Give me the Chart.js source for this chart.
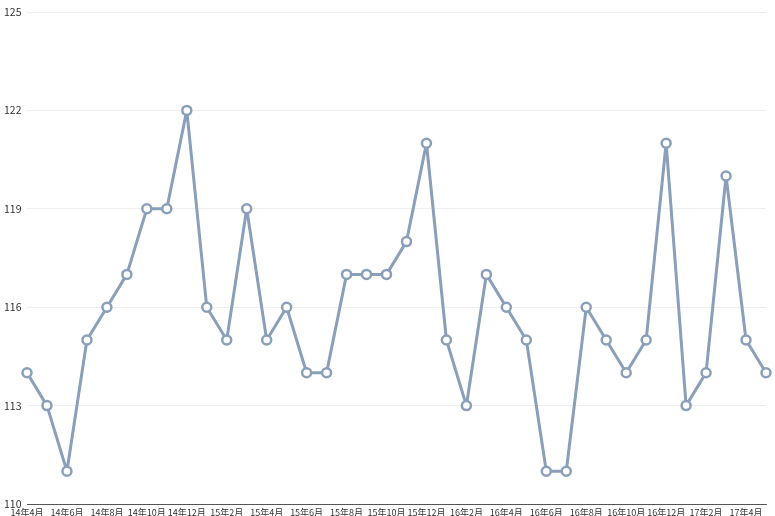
<!DOCTYPE html>
<html>
<head>
<meta charset="utf-8">
<script src="https://cdn.jsdelivr.net/npm/chart.js@4.4.1/dist/chart.umd.min.js"></script>
<style>
  html, body { margin: 0; padding: 0; background: #fff; }
  #wrap { width: 775px; height: 516px; }
</style>
</head>
<body>
<div id="wrap"><canvas id="chart"></canvas></div>
<script>
const months = [
  '14年4月','14年5月','14年6月','14年7月','14年8月','14年9月','14年10月','14年11月','14年12月',
  '15年1月','15年2月','15年3月','15年4月','15年5月','15年6月','15年7月','15年8月','15年9月','15年10月','15年11月','15年12月',
  '16年1月','16年2月','16年3月','16年4月','16年5月','16年6月','16年7月','16年8月','16年9月','16年10月','16年11月','16年12月',
  '17年1月','17年2月','17年3月','17年4月','17年5月'
];
const values = [
  114, 113, 111, 115, 116, 117, 119, 119, 122,
  116, 115, 119, 115, 116, 114, 114, 117, 117, 117, 118, 121,
  115, 113, 117, 116, 115, 111, 111, 116, 115, 114, 115, 121,
  113, 114, 120, 115, 114
];
const yMin = 110, yMax = 125, yStep = 3;

const lineColor = 'rgb(138,159,186)';

new Chart(document.getElementById('chart'), {
  type: 'line',
  data: {
    labels: months,
    datasets: [{
      data: values,
      borderColor: lineColor,
      borderWidth: 3,
      borderJoinStyle: 'round',
      tension: 0,
      pointRadius: 4.5,
      pointBorderWidth: 2.5,
      pointBackgroundColor: '#fff',
      pointBorderColor: lineColor
    }]
  },
  options: {
    responsive: true,
    maintainAspectRatio: false,
    animation: false,
    layout: { padding: { top: 12, right: 9, bottom: 0, left: 4 } },
    plugins: { legend: { display: false }, tooltip: { enabled: false } },
    scales: {
      x: {
        offset: false,
        grid: { display: false, drawTicks: false },
        border: { display: true, color: '#555', width: 1 },
        afterFit: function(s) { s.height = 12; },
        ticks: {
          autoSkip: false,
          maxRotation: 0,
          padding: 3,
          color: '#333',
          font: { family: '"Noto Sans CJK JP"', size: 9 },
          callback: function(v, i) { return i % 2 === 0 ? months[i] : ''; }
        }
      },
      y: {
        min: yMin,
        max: yMax,
        grid: { color: '#eeeeee', drawTicks: false },
        border: { display: false },
        afterFit: function(s) { s.width = 23; },
        ticks: {
          stepSize: yStep,
          padding: 4,
          crossAlign: 'far',
          color: '#333',
          font: { family: '"Noto Sans CJK JP"', size: 10.5 }
        }
      }
    }
  }
});
</script>
</body>
</html>
